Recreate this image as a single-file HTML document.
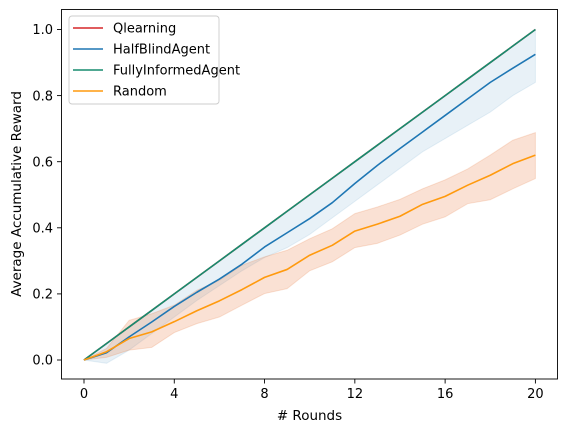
<!DOCTYPE html>
<html><head><meta charset="utf-8"><style>
body{margin:0;background:#fff;}
svg{display:block;font-family:"DejaVu Sans","Liberation Sans",sans-serif;}
</style></head><body>
<svg id="chart" width="567" height="432" viewBox="0 0 567 432">
<g id="bands"></g>
<g id="lines"></g>
<rect x="61.5" y="9.5" width="496" height="369.5" fill="none" stroke="#000" stroke-width="0.9"/>
<g id="axes"></g>
<text x="309.5" y="420" font-size="13.5" text-anchor="middle"># Rounds</text>
<text transform="translate(21,194) rotate(-90)" font-size="13.5" text-anchor="middle">Average Accumulative Reward</text>
<g>
<rect x="69" y="16" width="150" height="88" rx="3" fill="#fff" fill-opacity="0.8" stroke="#ccc" stroke-width="0.9"/>
<g id="legend-entries"></g>
</g>
</svg>
<script>
const rounds=[0,1,2,3,4,5,6,7,8,9,10,11,12,13,14,15,16,17,18,19,20];
const fullyInformed=[0,0.05,0.1,0.15,0.2,0.25,0.3,0.35,0.4,0.45,0.5,0.55,0.6,0.65,0.7,0.75,0.8,0.85,0.9,0.95,1.0];
const qlearning=[0,0.05,0.1,0.15,0.2,0.25,0.3,0.35,0.4,0.45,0.5,0.55,0.6,0.65,0.7,0.75,0.8,0.85,0.9,0.95,1.0];
const halfBlind=[0,0.022,0.07,0.115,0.162,0.205,0.245,0.29,0.342,0.385,0.428,0.476,0.534,0.589,0.64,0.69,0.74,0.79,0.84,0.883,0.925];
const halfBlindLow=[0,-0.01,0.03,0.08,0.13,0.18,0.225,0.27,0.31,0.34,0.38,0.43,0.48,0.53,0.58,0.63,0.67,0.71,0.75,0.8,0.84];
const halfBlindHigh=[0,0.05,0.1,0.15,0.2,0.25,0.3,0.35,0.4,0.45,0.5,0.55,0.6,0.65,0.7,0.75,0.8,0.85,0.9,0.95,1.0];
const random=[0,0.025,0.065,0.085,0.116,0.149,0.179,0.213,0.25,0.274,0.317,0.347,0.39,0.411,0.435,0.471,0.495,0.529,0.559,0.594,0.62];
const randomLow=[0,0.008,0.03,0.038,0.083,0.11,0.13,0.166,0.201,0.216,0.27,0.297,0.34,0.353,0.378,0.411,0.433,0.473,0.485,0.518,0.549];
const randomHigh=[0,0.035,0.12,0.14,0.166,0.211,0.241,0.287,0.312,0.332,0.367,0.397,0.443,0.463,0.486,0.518,0.545,0.578,0.62,0.665,0.688];
const xTicks=[0,4,8,12,16,20];
const yTicks=[0,0.2,0.4,0.6,0.8,1.0];
const yTickLabels=["0.0","0.2","0.4","0.6","0.8","1.0"];
const legendLabels=["Qlearning","HalfBlindAgent","FullyInformedAgent","Random"];
const legendColors=["#d62728","#1f77b4","#168c6f","#ff9a0e"];

const NS="http://www.w3.org/2000/svg";
function X(v){return 84+v*22.57;}
function Y(v){return 360-v*330.5;}
function mk(t,a,p){const e=document.createElementNS(NS,t);for(const k in a)e.setAttribute(k,a[k]);p.appendChild(e);return e;}
function linePts(ys){return rounds.map((r,i)=>X(r).toFixed(2)+","+Y(ys[i]).toFixed(2)).join(" ");}
function bandPts(lo,hi){const a=rounds.map((r,i)=>X(r)+","+Y(hi[i]));const b=rounds.map((r,i)=>X(r)+","+Y(lo[i])).reverse();return a.concat(b).join(" ");}

const bands=document.getElementById('bands');
const b1=mk('polygon',{points:bandPts(halfBlindLow,halfBlindHigh),fill:'#1f77b4','fill-opacity':0.1,stroke:'#1f77b4','stroke-opacity':0.1},bands);


const b2=mk('polygon',{points:bandPts(randomLow,randomHigh),fill:'#e8783a','fill-opacity':0.22,stroke:'#e8783a','stroke-opacity':0.2},bands);



const lines=document.getElementById('lines');
const series=[[qlearning,"#d62728","qlearning-line"],[halfBlind,"#1f77b4","halfblind-line"],[fullyInformed,"#168c6f","fullyinformed-line"],[random,"#ff9a0e","random-line"]];
series.forEach(s=>{
  const l=mk('polyline',{points:linePts(s[0]),fill:'none',stroke:s[1],'stroke-width':1.6,'stroke-linejoin':'round'},lines);
  
  
});

const axes=document.getElementById('axes');
xTicks.forEach(t=>{
  const g=mk('g',{},axes);
  
  
  mk('line',{x1:X(t),x2:X(t),y1:379,y2:383.5,stroke:'#000','stroke-width':0.9},g);
  const tx=mk('text',{x:X(t),y:398,'font-size':13,'text-anchor':'middle'},g);tx.textContent=t;
});
yTicks.forEach((t,i)=>{
  const g=mk('g',{},axes);
  
  
  mk('line',{x1:57,x2:61.5,y1:Y(t),y2:Y(t),stroke:'#000','stroke-width':0.9},g);
  const tx=mk('text',{x:53,y:Y(t)+4.7,'font-size':13,'text-anchor':'end'},g);tx.textContent=yTickLabels[i];
});

const le=document.getElementById('legend-entries');
legendLabels.forEach((lab,i)=>{
  const y=28+i*21;
  const g=mk('g',{},le);
  
  
  mk('line',{x1:73,x2:103,y1:y,y2:y,stroke:legendColors[i],'stroke-width':1.6},g);
  const tx=mk('text',{x:113,y:y+4.7,'font-size':13},g);tx.textContent=lab;
});
</script>
</body></html>
